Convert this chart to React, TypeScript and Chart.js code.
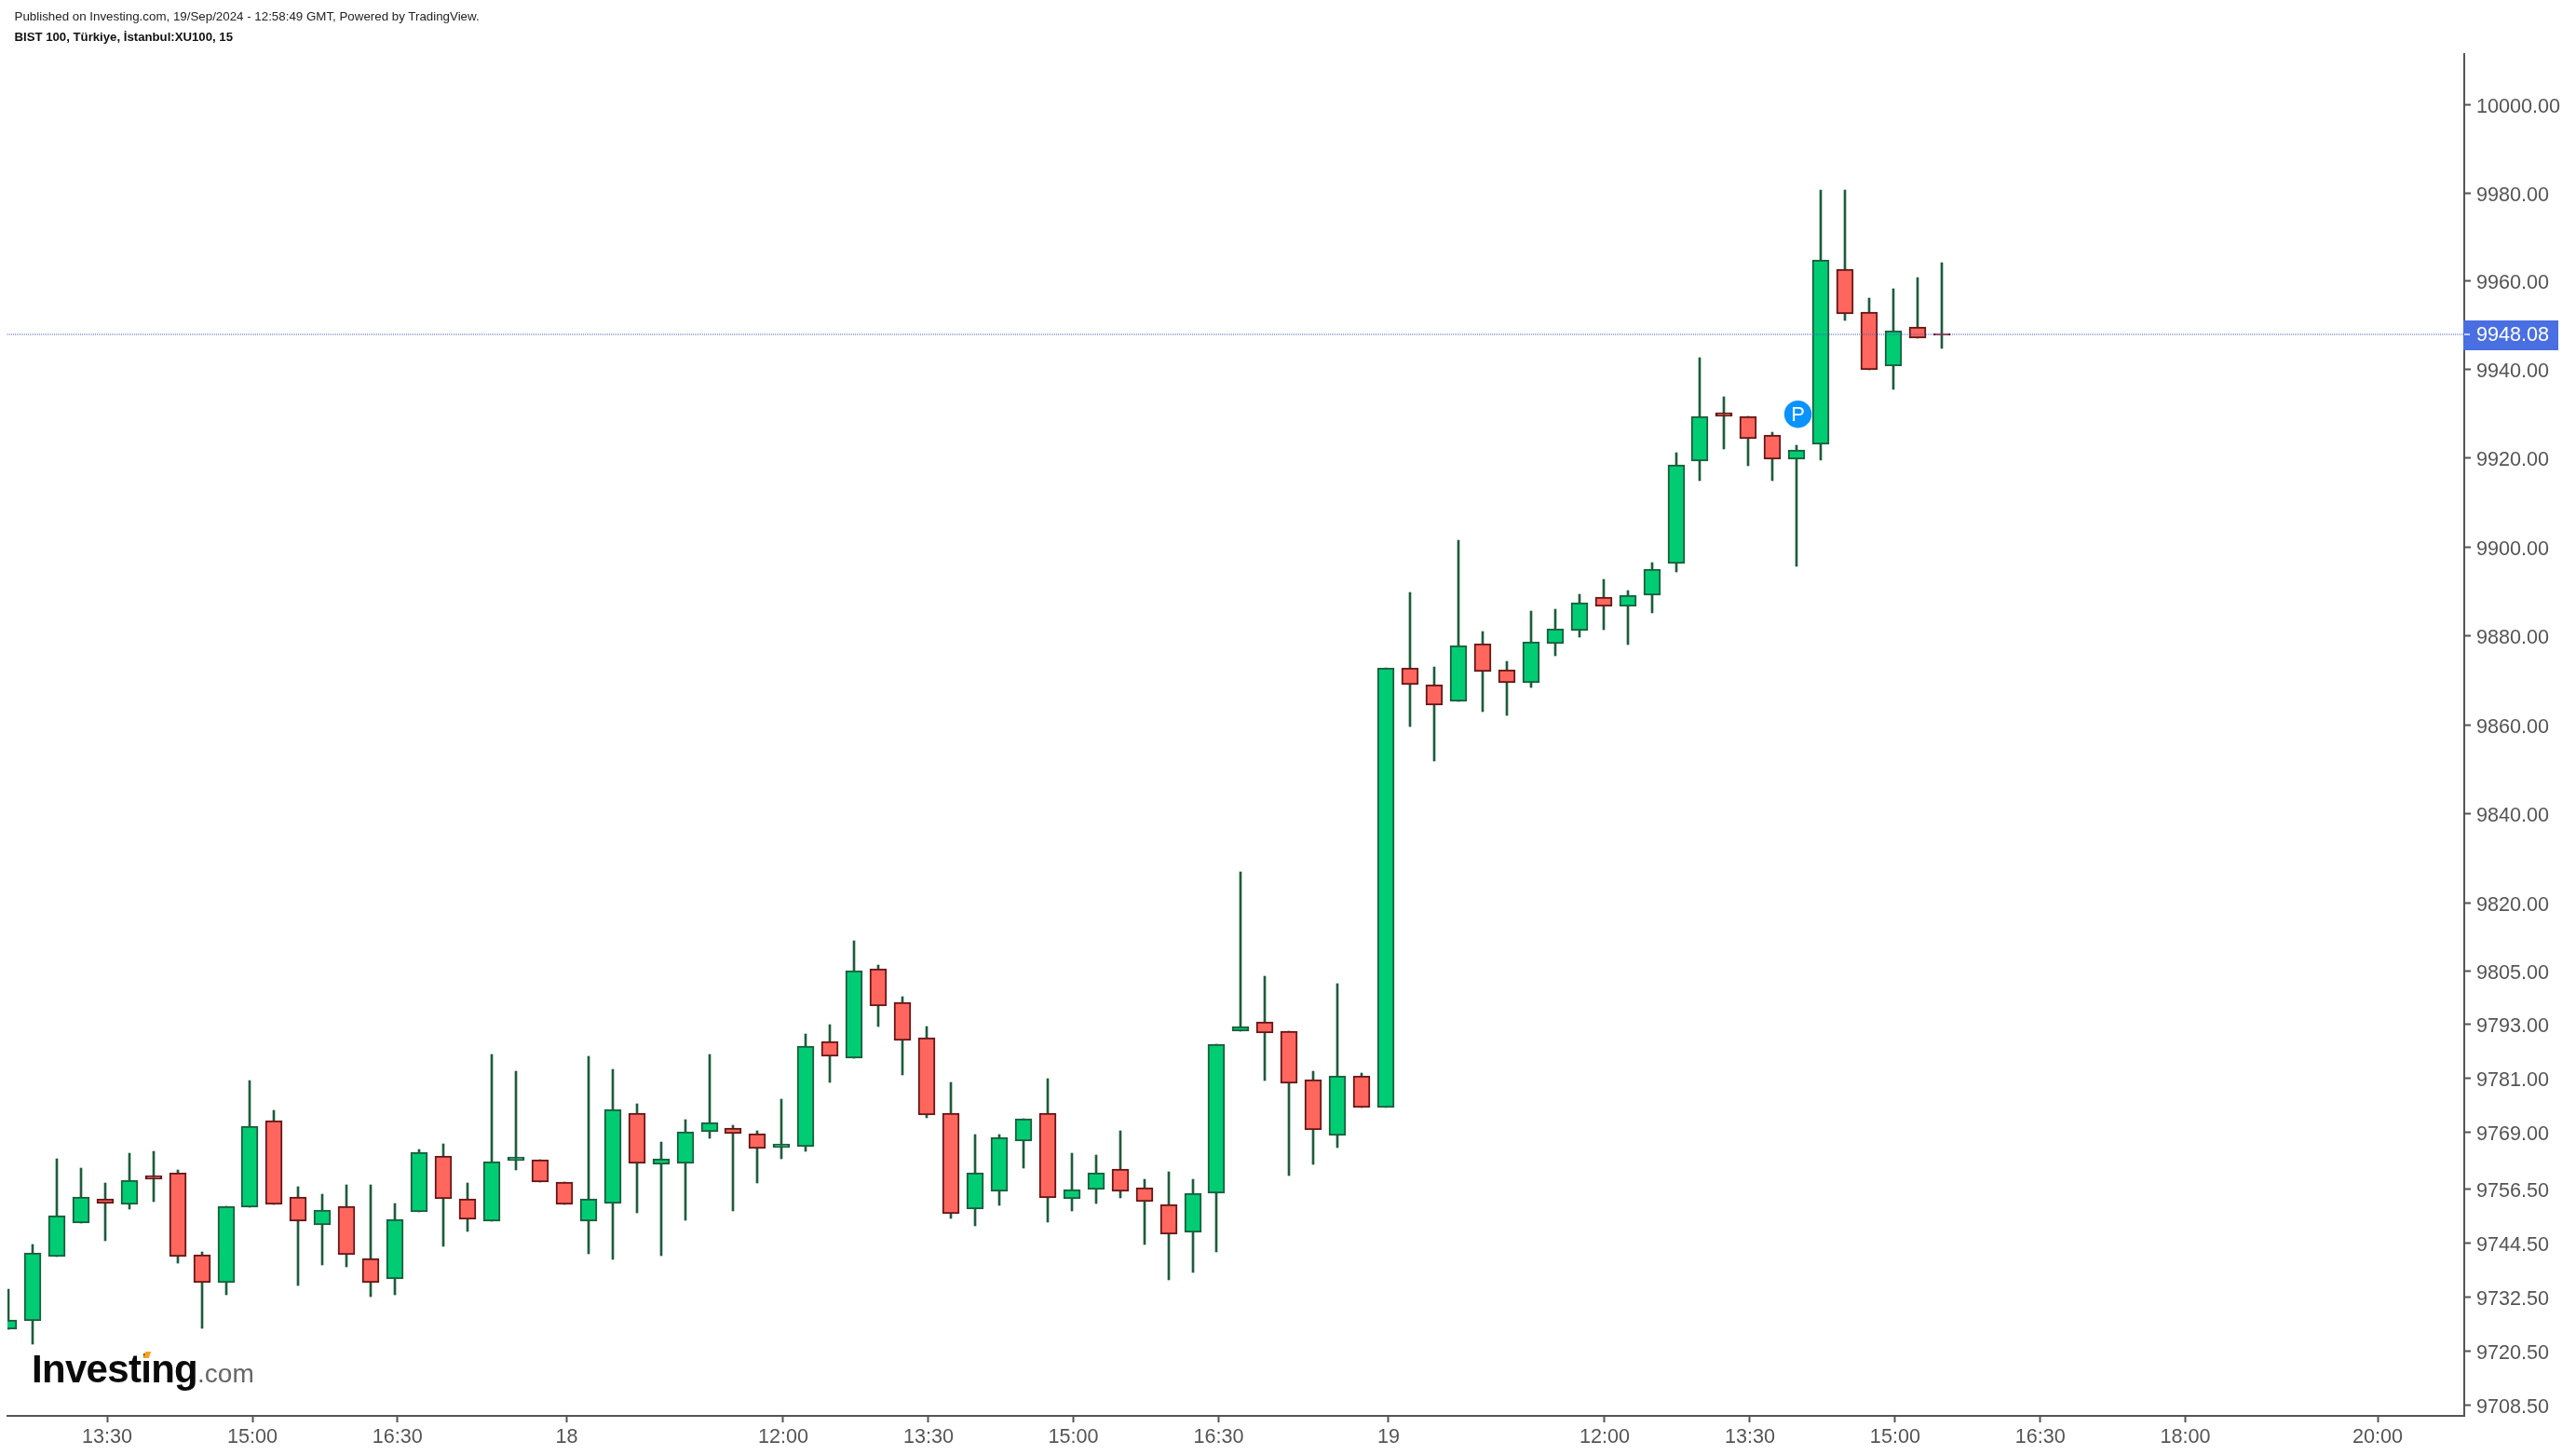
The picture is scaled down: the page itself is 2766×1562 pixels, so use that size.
import React, { useEffect, useRef } from "react";
import { Chart, registerables } from "chart.js";

Chart.register(...registerables);

const candleOpen = [9725.26,9727.30,9741.34,9748.78,9754.28,9752.90,9759.32,9760.08,9741.89,9735.56,9752.48,9771.67,9754.69,9748.37,9752.62,9741.06,9736.39,9751.26,9763.80,9754.28,9749.19,9762.77,9762.97,9758.01,9749.19,9753.31,9773.34,9761.94,9762.01,9769.04,9770.01,9768.77,9765.67,9765.73,9789.22,9785.49,9805.41,9797.93,9790.05,9773.33,9752.07,9755.80,9766.98,9773.33,9754.14,9756.21,9760.90,9756.76,9753.04,9746.71,9755.38,9791.43,9793.64,9791.57,9780.79,9768.22,9781.62,9774.43,9872.83,9869.07,9865.16,9878.26,9872.41,9869.34,9878.12,9881.06,9888.74,9886.50,9889.02,9896.16,9919.24,9930.32,9929.48,9925.27,9919.67,9923.03,9962.78,9953.07,9940.71,9949.70,9948.15];
const candleHigh = [9734.19,9744.10,9763.11,9761.04,9757.73,9764.35,9764.77,9760.63,9742.44,9752.62,9780.51,9773.89,9756.90,9755.25,9757.32,9757.32,9753.18,9765.18,9766.42,9757.73,9786.33,9782.59,9762.97,9758.01,9785.90,9783.00,9775.26,9766.84,9771.80,9786.33,9770.56,9769.32,9776.37,9790.88,9792.95,9811.63,9806.24,9799.18,9792.54,9780.10,9768.49,9768.49,9772.08,9780.93,9764.35,9763.94,9769.32,9758.56,9760.21,9758.56,9788.67,9826.98,9803.75,9791.57,9782.59,9802.09,9782.18,9872.83,9889.72,9872.97,9901.46,9880.92,9874.22,9885.52,9885.94,9889.30,9892.65,9890.14,9896.43,9921.21,9942.67,9933.83,9929.48,9925.83,9922.89,9980.67,9980.67,9956.16,9958.28,9960.81,9964.19];
const candleLow = [9725.26,9721.95,9741.34,9748.78,9744.98,9751.93,9753.60,9739.96,9725.50,9732.95,9752.48,9752.90,9735.00,9739.55,9739.13,9732.55,9732.95,9751.26,9743.69,9746.99,9749.19,9760.63,9757.87,9752.90,9742.03,9740.79,9751.13,9741.62,9749.47,9767.66,9751.54,9757.73,9763.11,9764.77,9780.10,9785.49,9792.54,9781.77,9772.22,9749.88,9748.23,9752.76,9761.04,9749.06,9751.54,9753.17,9754.42,9744.10,9736.25,9737.91,9742.44,9791.43,9780.51,9759.46,9761.87,9765.60,9774.43,9774.43,9859.59,9851.93,9865.16,9862.93,9862.10,9868.37,9875.47,9879.66,9881.34,9877.98,9885.11,9894.33,9914.90,9922.04,9918.26,9914.90,9895.59,9919.52,9951.11,9939.87,9935.52,9947.03,9944.78];
const candleClose = [9727.45,9742.30,9750.57,9754.69,9753.31,9758.42,9758.63,9741.34,9735.56,9752.62,9770.43,9752.90,9749.19,9751.80,9741.75,9735.56,9749.75,9764.63,9754.14,9749.61,9762.56,9763.46,9757.87,9752.90,9754.28,9774.16,9762.01,9763.04,9769.18,9771.25,9768.63,9765.32,9766.42,9788.26,9785.90,9804.99,9797.10,9789.36,9772.77,9750.85,9760.08,9767.94,9772.08,9754.55,9756.35,9760.08,9755.80,9753.72,9746.30,9755.52,9788.67,9792.47,9791.02,9779.82,9769.46,9781.62,9774.43,9872.83,9868.93,9864.33,9877.85,9871.85,9869.34,9878.68,9881.62,9887.48,9886.50,9889.16,9895.03,9918.55,9929.48,9929.34,9924.29,9919.67,9921.91,9964.89,9952.52,9939.87,9948.86,9947.03,9947.73];

const priceTicks = [10000,9980,9960,9940,9920,9900,9880,9860,9840,9820,9805,9793,9781,9769,9756.5,9744.5,9732.5,9720.5,9708.5];
const timeTickSlots = [4.085,10.1,16.1,23.1,32.06,38.07,44.07,50.08,57.11,66.05,72.06,78.07,84.08,90.08,98.04];
const timeTickLabels = ["13:30","15:00","16:30","18","12:00","13:30","15:00","16:30","19","12:00","13:30","15:00","16:30","18:00","20:00"];
const lastPrice = 9948.08;
const markerSlot = 74.05;
const markerPrice = 9929.9;
const slotMin = -0.0385;
const slotMax = 101.62;
const priceMin = 9706.2;
const priceMax = 10011.6;

const FONT = "'Liberation Sans', Arial, sans-serif";
const AXIS = "#555555";
const UP_FILL = "#00CC74";
const UP_EDGE = "#1D5C3C";
const DOWN_FILL = "#FF665E";
const DOWN_EDGE = "#661616";
const WICK = "#1D5C3C";
const LABEL_BLUE = "#4A6FE3";

const snapPlugin = {
  id: "snap",
  afterDatasetsUpdate(chart: any) {
    chart.data.datasets.forEach((ds: any, i: number) => {
      const meta = chart.getDatasetMeta(i);
      meta.data.forEach((el: any) => {
        if (ds.type === "line") {
          el.y = Math.ceil(el.y);
        } else {
          el.x = Math.round(el.x);
          el.y = Math.round(el.y);
          el.base = Math.round(el.base);
        }
      });
    });
  },
};

const overlayPlugin = {
  id: "overlay",
  afterDraw(chart: any) {
    const { ctx } = chart;
    const sx = chart.scales.x;
    const sy = chart.scales.y;
    ctx.save();
    // the lowest price label is cut off at the bottom of the plot
    ctx.fillStyle = "#ffffff";
    ctx.fillRect(2648, 1518, 118, 44);

    const yLast = sy.getPixelForValue(lastPrice);
    ctx.fillStyle = LABEL_BLUE;
    ctx.fillRect(2645, Math.round(yLast) - 14, 102, 32);
    ctx.fillStyle = "#C9D4F7";
    ctx.fillRect(2646, Math.ceil(yLast) - 1, 6, 2);
    ctx.fillStyle = "#ffffff";
    ctx.font = `21.6px ${FONT}`;
    ctx.textAlign = "left";
    ctx.textBaseline = "middle";
    ctx.fillText(lastPrice.toFixed(2), 2659, Math.round(yLast) + 2);

    const mx = sx.getPixelForValue(markerSlot);
    const my = sy.getPixelForValue(markerPrice);
    ctx.beginPath();
    ctx.arc(mx, my, 14.7, 0, Math.PI * 2);
    ctx.fillStyle = "#0A93FF";
    ctx.fill();
    ctx.fillStyle = "#ffffff";
    ctx.font = `22px ${FONT}`;
    ctx.textAlign = "center";
    ctx.fillText("P", mx, my + 1);
    ctx.restore();
  },
};

export default function App() {
  const ref = useRef<HTMLCanvasElement | null>(null);

  useEffect(() => {
    const slots = candleOpen.map((_, i) => i);
    const isUp = (i: number) => candleClose[i] >= candleOpen[i];
    const chart = new Chart(ref.current as HTMLCanvasElement, {
      type: "bar",
      data: {
        datasets: [
          {
            type: "line",
            label: "Last",
            data: [
              { x: slotMin, y: lastPrice },
              { x: slotMax, y: lastPrice },
            ],
            borderColor: "rgba(62,88,190,0.95)",
            borderWidth: 1,
            borderDash: [1, 1],
            pointRadius: 0,
            order: 1,
          },
          {
            type: "bar",
            label: "Body",
            data: slots.map((i) => ({
              x: i,
              y: [Math.min(candleOpen[i], candleClose[i]), Math.max(candleOpen[i], candleClose[i])],
            })),
            backgroundColor: slots.map((i) => (isUp(i) ? UP_FILL : DOWN_FILL)),
            borderColor: slots.map((i) => (isUp(i) ? UP_EDGE : DOWN_EDGE)),
            borderWidth: 2,
            borderSkipped: false,
            grouped: false,
            barPercentage: 1,
            categoryPercentage: 1,
            maxBarThickness: 18,
            order: 2,
          },
          {
            type: "bar",
            label: "Wick",
            data: slots.map((i) => ({ x: i, y: [candleLow[i], candleHigh[i]] })),
            backgroundColor: WICK,
            borderWidth: 0,
            grouped: false,
            barPercentage: 1,
            categoryPercentage: 1,
            maxBarThickness: 2,
            order: 3,
          },
        ],
      } as any,
      options: {
        responsive: false,
        animation: false,
        parsing: { xAxisKey: "x", yAxisKey: "y" } as any,
        layout: { padding: { left: 8, top: 58, right: 0, bottom: 0 } },
        plugins: { legend: { display: false }, tooltip: { enabled: false } },
        scales: {
          x: {
            type: "linear",
            offset: false,
            min: slotMin,
            max: slotMax,
            afterBuildTicks: (s: any) => {
              s.ticks = timeTickSlots.map((value) => ({ value }));
            },
            afterFit: (s: any) => {
              s.height = 42;
              s.paddingLeft = 0;
              s.paddingRight = 0;
            },
            border: { display: true, width: 2, color: AXIS },
            grid: { display: true, offset: false, drawOnChartArea: false, drawTicks: true, tickLength: 7, tickWidth: 2, tickColor: AXIS, color: AXIS },
            ticks: {
              autoSkip: false,
              maxRotation: 0,
              minRotation: 0,
              padding: 3,
              color: AXIS,
              font: { family: FONT, size: 21.6 },
              callback: (_v: any, i: number) => timeTickLabels[i],
            },
          },
          y: {
            type: "logarithmic",
            position: "right",
            min: priceMin,
            max: priceMax,
            afterBuildTicks: (s: any) => {
              s.ticks = priceTicks.map((value) => ({ value }));
            },
            afterFit: (s: any) => {
              s.width = 120;
              s.paddingTop = 0;
              s.paddingBottom = 0;
            },
            border: { display: true, width: 2, color: AXIS },
            grid: { display: true, offset: false, drawOnChartArea: false, drawTicks: true, tickLength: 7, tickWidth: 2, tickColor: AXIS, color: AXIS },
            ticks: {
              autoSkip: false,
              padding: 6,
              color: AXIS,
              // an empty first line with this small line height drops each label just below its tick
              font: { family: FONT, size: 21.6, lineHeight: "5.2px" },
              callback: (v: any) => ["", Number(v).toFixed(2)],
            },
          },
        },
      } as any,
      plugins: [snapPlugin, overlayPlugin],
    } as any);
    return () => chart.destroy();
  }, []);

  return (
    <div style={{ position: "absolute", left: 0, top: 0, width: 2766, height: 1562, background: "#fff", overflow: "hidden" }}>
      <canvas ref={ref} width={2766} height={1562} style={{ position: "absolute", left: 0, top: 0, display: "block" }} />
      <div style={{ position: "absolute", left: 15.5, top: 10, fontFamily: FONT, fontSize: 13.33, lineHeight: "15px", color: "#222", whiteSpace: "nowrap" }}>
        Published on Investing.com, 19/Sep/2024 - 12:58:49 GMT, Powered by TradingView.
      </div>
      <div style={{ position: "absolute", left: 15.5, top: 32, fontFamily: FONT, fontSize: 13.2, fontWeight: 700, lineHeight: "15px", color: "#111", whiteSpace: "nowrap" }}>
        BIST 100, Türkiye, İstanbul:XU100, 15
      </div>
      <div style={{ position: "absolute", left: 34, top: 1445, fontFamily: FONT, lineHeight: "50px", whiteSpace: "nowrap" }}>
        <span style={{ fontSize: 42, fontWeight: 700, color: "#0b0b0b", letterSpacing: -0.7 }}>Investing</span>
        <span style={{ fontSize: 28, color: "#666" }}>.com</span>
      </div>
      <div style={{ position: "absolute", left: 155, top: 1451, width: 6, height: 7, background: "#F7A21B", transform: "skewX(-20deg)" }} />
    </div>
  );
}
